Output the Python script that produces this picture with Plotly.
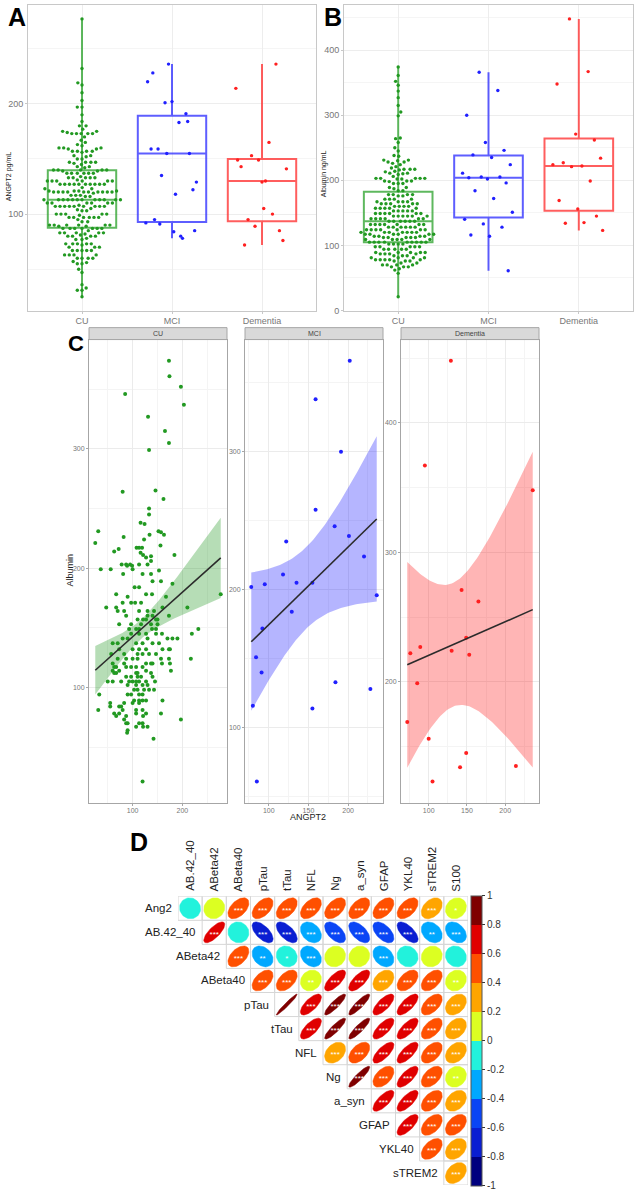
import math
import numpy as np
import plotly.graph_objects as go

# ---------------- DATA ----------------
groups = ["CU", "MCI", "Dementia"]

cu_angpt2 = [
    173, 174, 197, 85, 203, 131, 165, 173, 133, 80, 146, 162, 133, 133, 116, 124,
    31, 152, 157, 134, 163, 82, 25, 123, 156, 72, 63, 108, 113, 119,
    184, 116, 121, 127, 137, 137, 78, 87, 95, 113, 130, 89, 99, 36, 56, 100, 153,
    81, 120, 137, 140, 157, 180, 104, 113, 67, 127, 139, 90, 167,
    80, 97, 105, 117, 47, 67, 160, 210, 70, 83, 113, 130, 143,
    87, 130, 140, 173, 110, 147, 121, 127, 150, 73, 97, 117, 137, 150,
    93, 107, 113, 232, 139, 147, 97, 113, 127, 147, 159, 219,
    80, 90, 130, 170, 180, 190, 60, 70, 120, 107, 140, 153,
    73, 100, 113, 127, 160, 173, 175, 57, 83, 110, 120, 133, 147,
    70, 87, 100, 110, 217, 157, 173, 60, 83, 127, 137, 140, 159, 175,
    63, 67, 87, 97, 107, 120, 60, 73, 127, 177, 63, 67, 107, 110, 137,
    87, 97, 110, 117, 140, 50, 60, 77, 93, 100, 107, 113, 127, 145,
    90, 107, 120, 130, 103, 110, 123, 133, 143, 33, 90, 97, 113, 120,
    103, 120, 113, 127, 160, 55, 83, 100, 113, 55, 73, 77,
    31, 80, 107, 120, 63, 73, 107, 127, 157, 67, 87, 121, 83, 197,
    87, 90, 113, 120, 107, 121, 130, 90, 89, 142, 120, 277,
]
cu_albumin = [
    374, 361, 352, 346, 337, 327, 315, 305, 299, 264, 265, 258, 250, 245, 238, 237,
    231, 231, 230, 228, 228, 226, 221, 224, 219, 216, 214, 217, 217, 217,
    211, 213, 211, 209, 210, 206, 203, 203, 203, 203, 203, 202, 202, 199, 199, 199, 198,
    195, 195, 195, 189, 189, 187, 184, 184, 178, 178, 178, 176, 176,
    171, 171, 171, 171, 167, 167, 167, 167, 164, 164, 164, 164, 164,
    160, 160, 160, 160, 157, 157, 157, 157, 157, 153, 153, 153, 153, 153,
    149, 149, 149, 149, 149, 149, 145, 145, 145, 145, 145, 145,
    141, 141, 141, 141, 141, 141, 137, 137, 137, 137, 137, 137,
    132, 132, 132, 132, 132, 132, 132, 128, 128, 128, 128, 128, 128,
    124, 124, 124, 124, 124, 124, 124, 120, 120, 120, 120, 120, 120, 120,
    117, 117, 117, 117, 117, 117, 114, 114, 114, 114, 112, 112, 112, 112, 112,
    109, 109, 109, 109, 109, 105, 105, 105, 105, 105, 105, 105, 105, 105,
    102, 102, 102, 102, 98, 98, 98, 98, 98, 94, 94, 94, 94, 94,
    89, 89, 89, 89, 89, 87, 87, 87, 87, 84, 84, 84,
    81, 81, 81, 81, 78, 78, 78, 78, 78, 76, 76, 76, 73, 73,
    70, 70, 70, 70, 67, 67, 67, 64, 62, 57, 21, 178,
]
mci_angpt2 = [202, 159, 191, 159, 183, 201, 122, 220, 118, 135, 155, 95, 78, 236, 129, 92, 84, 91, 184, 228, 80, 155, 85]
mci_albumin = [366, 338, 300, 258, 246, 239, 235, 224, 211, 205, 205, 204, 202, 196, 184, 172, 151, 140, 133, 128, 116, 114, 61]
dem_angpt2 = [129, 95, 236, 143, 165, 89, 76, 149, 130, 153, 85, 72, 100, 149, 141, 214, 105]
dem_albumin = [448, 367, 348, 271, 262, 227, 222, 234, 224, 221, 199, 169, 156, 145, 134, 135, 123]

corr_rows = ["Ang2", "AB.42_40", "ABeta42", "ABeta40", "pTau", "tTau", "NFL", "Ng", "a_syn", "GFAP", "YKL40", "sTREM2"]
corr_cols = ["AB.42_40", "ABeta42", "ABeta40", "pTau", "tTau", "NFL", "Ng", "a_syn", "GFAP", "YKL40", "sTREM2", "S100"]
corr_upper = [
    [-0.05, 0.08, 0.5, 0.52, 0.52, 0.5, 0.5, 0.5, 0.5, 0.52, 0.38, 0.15],
    [0.75, -0.05, -0.62, -0.62, -0.32, -0.55, -0.58, -0.55, -0.65, -0.3, -0.35],
    [0.5, -0.3, -0.12, -0.3, 0.08, 0.1, -0.3, -0.1, 0.1, -0.1],
    [0.5, 0.5, 0.15, 0.7, 0.7, 0.35, 0.5, 0.5, 0.15],
    [0.97, 0.7, 0.88, 0.88, 0.72, 0.72, 0.55, 0.35],
    [0.7, 0.88, 0.88, 0.72, 0.72, 0.55, 0.35],
    [0.35, 0.5, 0.72, 0.72, 0.5, 0.35],
    [0.9, 0.5, 0.72, 0.5, 0.15],
    [0.72, 0.72, 0.5, 0.35],
    [0.72, 0.5, 0.45],
    [0.5, 0.35],
    [0.35],
]
corr_stars = [
    ["", "", "***", "***", "***", "***", "***", "***", "***", "***", "***", "*"],
    ["***", "", "***", "***", "***", "***", "***", "***", "***", "**", "***"],
    ["***", "**", "*", "***", "", "", "***", "", "", ""],
    ["***", "***", "**", "***", "***", "***", "***", "***", "**"],
    ["", "***", "***", "***", "***", "***", "***", "***"],
    ["***", "***", "***", "***", "***", "***", "***"],
    ["***", "***", "***", "***", "***", "***"],
    ["***", "***", "***", "***", "**"],
    ["***", "***", "***", "***"],
    ["***", "***", "***"],
    ["***", "***"],
    ["***"],
]
cbar_ticks = [1, 0.8, 0.6, 0.4, 0.2, 0, -0.2, -0.4, -0.6, -0.8, -1]
corr_palette = ["#00007F", "#0A1ED2", "#0A45F5", "#00A8FF", "#22F2DC",
                "#DCFF22", "#FFA500", "#FF5000", "#E00000", "#7F0000"]

# ---------------- GEOMETRY / STYLE ----------------
W, H = 636, 1199
FONT = "Liberation Sans, Arial, sans-serif"
def px(x): return x / W
def py(y): return 1 - y / H

A_X, A_Y = (28, 316), (5, 312)
B_X, B_Y = (344, 633), (5, 312)
C_X = [(89, 227), (245, 383), (401, 539)]
C_Y = (341, 806)
D_X, D_Y = (178, 468), (900, 1190)

pt_col = {"CU": "#229922", "MCI": "#2020FF", "Dementia": "#FF2020"}
box_col = {"CU": "rgba(40,160,40,0.75)", "MCI": "rgba(40,40,255,0.75)", "Dementia": "rgba(255,40,40,0.75)"}
band_col = {"CU": "rgba(34,153,34,0.33)", "MCI": "rgba(30,30,255,0.33)", "Dementia": "rgba(255,30,30,0.33)"}

data_ang = {"CU": cu_angpt2, "MCI": mci_angpt2, "Dementia": dem_angpt2}
data_alb = {"CU": cu_albumin, "MCI": mci_albumin, "Dementia": dem_albumin}


def expand(vals, f=0.05):
    lo, hi = min(vals), max(vals)
    return [lo - f * (hi - lo), hi + f * (hi - lo)]


def swarm(vals, unit_px, d):
    vals = np.asarray(vals, float)
    order = np.argsort(vals, kind="stable")
    ys = vals * unit_px
    placed = []
    off = np.zeros(len(vals))
    for k, idx in enumerate(order):
        y = ys[idx]
        ints = []
        for (pyv, pxv) in placed:
            dy = abs(pyv - y)
            if dy < d:
                w = math.sqrt(d * d - dy * dy)
                ints.append((pxv - w, pxv + w))
        cands = [0.0] + [a for a, b in ints] + [b for a, b in ints]
        sgn = 1 if k % 2 else -1
        cands.sort(key=lambda c: (round(abs(c), 6), -sgn * c))
        for c in cands:
            if all(not (a + 1e-9 < c < b - 1e-9) for a, b in ints):
                off[idx] = c
                break
        placed.append((y, off[idx]))
    return off


def vdc(n, base):
    v, den = 0.0, 1.0
    while n:
        n, r = divmod(n, base)
        den *= base
        v += r / den
    return v


def t975(df):
    z = 1.959964
    return (z + (z**3 + z) / (4 * df) + (5 * z**5 + 16 * z**3 + 3 * z) / (96 * df**2)
            + (3 * z**7 + 19 * z**5 + 17 * z**3 - 15 * z) / (384 * df**3))


fig = go.Figure()
annotations = []
shapes = []

# ---------------- PANELS A and B ----------------
panels_ab = [
    ("x", "y", A_X, A_Y, data_ang, 2),
    ("x2", "y2", B_X, B_Y, data_alb, 3),
]
for xa, ya, PX, PY, dd, base in panels_ab:
    allv = [v for g in groups for v in dd[g]]
    yr = expand(allv)
    unit_px = (PY[1] - PY[0]) / (yr[1] - yr[0])
    cat_px = (PX[1] - PX[0]) / 3.2
    for gi, g in enumerate(groups):
        vals = dd[g]
        fig.add_trace(go.Box(
            y=vals, x=[gi] * len(vals), xaxis=xa, yaxis=ya, width=0.76,
            boxpoints=False, whiskerwidth=0, quartilemethod="linear",
            line=dict(color=box_col[g], width=2), fillcolor="rgba(0,0,0,0)",
            showlegend=False, hoverinfo="skip"))
        if g == "CU":
            offs = swarm(vals, unit_px, 4.7) / cat_px
        else:
            offs = np.array([(vdc(i + 1, base) - 0.5) * 0.62 for i in range(len(vals))])
        fig.add_trace(go.Scatter(
            x=gi + offs, y=vals, xaxis=xa, yaxis=ya, mode="markers",
            marker=dict(size=3.4, color=pt_col[g]), showlegend=False, hoverinfo="skip"))

# ---------------- PANEL C ----------------
for k, g in enumerate(groups):
    xa, ya = "x%d" % (k + 3), "y%d" % (k + 3)
    x = np.asarray(data_ang[g], float)
    y = np.asarray(data_alb[g], float)
    n = len(x)
    b1, b0 = np.polyfit(x, y, 1)
    xs = np.linspace(x.min(), x.max(), 80)
    yh = b0 + b1 * xs
    s = math.sqrt(np.sum((y - (b0 + b1 * x)) ** 2) / (n - 2))
    sxx = np.sum((x - x.mean()) ** 2)
    se = s * np.sqrt(1.0 / n + (xs - x.mean()) ** 2 / sxx)
    t = t975(n - 2)
    up, lo = yh + t * se, yh - t * se
    fig.add_trace(go.Scatter(
        x=np.concatenate([xs, xs[::-1]]), y=np.concatenate([up, lo[::-1]]),
        xaxis=xa, yaxis=ya, fill="toself", fillcolor=band_col[g], line=dict(width=0),
        mode="lines", showlegend=False, hoverinfo="skip"))
    fig.add_trace(go.Scatter(
        x=x, y=y, xaxis=xa, yaxis=ya, mode="markers",
        marker=dict(size=4, color=pt_col[g]), showlegend=False, hoverinfo="skip"))
    fig.add_trace(go.Scatter(
        x=xs, y=yh, xaxis=xa, yaxis=ya, mode="lines",
        line=dict(color="#2b2b2b", width=1.6), showlegend=False, hoverinfo="skip"))
    shapes.append(dict(type="rect", xref="paper", yref="paper",
                       x0=px(C_X[k][0]), x1=px(C_X[k][1]), y0=py(341), y1=py(329),
                       fillcolor="#D9D9D9", line=dict(color="#A6A6A6", width=1)))
    annotations.append(dict(x=px((C_X[k][0] + C_X[k][1]) / 2), y=py(335), xref="paper", yref="paper",
                            xanchor="center", yanchor="middle",
                            text=g, showarrow=False, font=dict(size=7, color="#444", family=FONT)))

# ---------------- PANEL D ----------------
bins_x = [[] for _ in corr_palette]
bins_y = [[] for _ in corr_palette]
star_x, star_y, star_t = [], [], []
tt = np.linspace(0, 2 * math.pi, 60)
for i, row in enumerate(corr_upper):
    for m, r in enumerate(row):
        j = i + m
        dang = math.acos(max(-1.0, min(1.0, r)))
        ex = np.cos(tt + dang / 2) / 2 * 0.87
        ey = np.cos(tt - dang / 2) / 2 * 0.87
        b = min(int((r + 1) / 0.2), 9)
        bins_x[b] += list(j + ex) + [None]
        bins_y[b] += list(i - ey) + [None]
        star_x.append(j)
        star_y.append(i + 0.1)
        star_t.append(corr_stars[i][m])
        shapes.append(dict(type="rect", xref="x6", yref="y6", x0=j - 0.5, x1=j + 0.5,
                           y0=i - 0.5, y1=i + 0.5, line=dict(color="#D6D6D6", width=1),
                           layer="below"))
for b, c in enumerate(corr_palette):
    if bins_x[b]:
        fig.add_trace(go.Scatter(x=bins_x[b], y=bins_y[b], xaxis="x6", yaxis="y6",
                                 mode="lines", fill="toself", fillcolor=c,
                                 line=dict(color=c, width=0.5), showlegend=False, hoverinfo="skip"))
fig.add_trace(go.Scatter(x=star_x, y=star_y, text=star_t, xaxis="x6", yaxis="y6", mode="text",
                         textfont=dict(size=8, color="white", family=FONT),
                         showlegend=False, hoverinfo="skip"))

cscale = []
for b, c in enumerate(corr_palette):
    cscale.append([b / 10, c])
    cscale.append([(b + 1) / 10, c])
fig.add_trace(go.Scatter(
    x=[0], y=[0], xaxis="x6", yaxis="y6", mode="markers",
    marker=dict(size=1, opacity=0, color=[0], colorscale=cscale, cmin=-1, cmax=1, showscale=True,
                colorbar=dict(x=px(471), xanchor="left", y=py((D_Y[0] + D_Y[1]) / 2), yanchor="middle",
                              len=D_Y[1] - D_Y[0], lenmode="pixels", thickness=11, thicknessmode="pixels",
                              xpad=0, ypad=0, outlinewidth=1, outlinecolor="#555",
                              tickvals=cbar_ticks, ticktext=[str(v) for v in cbar_ticks],
                              ticks="outside", ticklen=3, tickcolor="#333",
                              tickfont=dict(size=10, color="#333", family=FONT))),
    showlegend=False, hoverinfo="skip"))

for i, name in enumerate(corr_rows):
    annotations.append(dict(x=i - 0.5, y=i, xref="x6", yref="y6", text=name, showarrow=False,
                            xanchor="right", yanchor="middle", xshift=-4,
                            font=dict(size=11.5, color="#222", family=FONT)))
for j, name in enumerate(corr_cols):
    annotations.append(dict(x=j, y=-0.5, xref="x6", yref="y6", text=name, showarrow=False,
                            textangle=-90, xanchor="center", yanchor="bottom", yshift=3,
                            font=dict(size=11.5, color="#222", family=FONT)))

# ---------------- TITLES / LETTERS ----------------
def ptext(x, y, text, size, angle=0, color="#222"):
    return dict(x=px(x), y=py(y), xref="paper", yref="paper", text=text, textangle=angle,
                showarrow=False, xanchor="center", yanchor="middle",
                font=dict(size=size, color=color, family=FONT))

annotations += [
    ptext(9, 177, "ANGPT2 pg/mL", 7, -90),
    ptext(324, 175, "Albumin ng/mL", 7, -90),
    ptext(70, 573, "Albumin", 9, -90),
    ptext(308, 820, "ANGPT2", 9),
]
for lt, lx, ly, sz in [("A", 17, 17, 25), ("B", 333, 17, 25), ("C", 76, 345, 22), ("D", 139, 846, 25)]:
    annotations.append(ptext(lx, ly, "<b>%s</b>" % lt, sz, 0, "black"))

# ---------------- AXES ----------------
def ab_axes(PX, PY, yr, anchor_x, anchor_y):
    xa = dict(domain=[px(PX[0]), px(PX[1])], range=[-0.6, 2.6], tickvals=[0, 1, 2], ticktext=groups,
              showgrid=True, gridcolor="#EDEDED", zeroline=False, showline=True, mirror=True,
              linecolor="#C8C8C8", ticks="outside", ticklen=2, tickcolor="#C8C8C8", ticklabelstandoff=0,
              tickfont=dict(size=9, color="#777", family=FONT), anchor=anchor_y, fixedrange=True)
    ya = dict(domain=[py(PY[1]), py(PY[0])], range=yr, dtick=100, tick0=0,
              showgrid=True, gridcolor="#EDEDED", zeroline=False, showline=True, mirror=True,
              linecolor="#C8C8C8", ticks="outside", ticklen=2, tickcolor="#C8C8C8",
              minor=dict(dtick=50, tick0=0, showgrid=True, gridcolor="#F5F5F5", ticklen=0),
              tickfont=dict(size=9, color="#777", family=FONT), anchor=anchor_x, fixedrange=True)
    return xa, ya

xA, yA = ab_axes(A_X, A_Y, expand([v for g in groups for v in data_ang[g]]), "x", "y")
xB, yB = ab_axes(B_X, B_Y, expand([v for g in groups for v in data_alb[g]]), "x2", "y2")

layout = dict(xaxis=xA, yaxis=yA, xaxis2=xB, yaxis2=yB)
for k, g in enumerate(groups):
    xd = 100 if g == "CU" else 50
    layout["xaxis%d" % (k + 3)] = dict(
        domain=[px(C_X[k][0]), px(C_X[k][1])], range=expand(data_ang[g]), dtick=xd, tick0=0,
        showgrid=True, gridcolor="#EBEBEB", zeroline=False, showline=True, mirror=True,
        linecolor="#A6A6A6", ticks="outside", ticklen=2, tickcolor="#A6A6A6", ticklabelstandoff=-1,
        minor=dict(dtick=xd / 2, tick0=0, showgrid=True, gridcolor="#F4F4F4", ticklen=0),
        tickfont=dict(size=7, color="#777", family=FONT), anchor="y%d" % (k + 3), fixedrange=True)
    layout["yaxis%d" % (k + 3)] = dict(
        domain=[py(C_Y[1]), py(C_Y[0])], range=expand(data_alb[g]), dtick=100, tick0=0,
        showgrid=True, gridcolor="#EBEBEB", zeroline=False, showline=True, mirror=True,
        linecolor="#A6A6A6", ticks="outside", ticklen=2, tickcolor="#A6A6A6",
        minor=dict(dtick=50, tick0=0, showgrid=True, gridcolor="#F4F4F4", ticklen=0),
        tickfont=dict(size=7, color="#777", family=FONT), anchor="x%d" % (k + 3), fixedrange=True)
layout["xaxis6"] = dict(domain=[px(D_X[0]), px(D_X[1])], range=[-0.5, 11.5], visible=False,
                        anchor="y6", fixedrange=True)
layout["yaxis6"] = dict(domain=[py(D_Y[1]), py(D_Y[0])], range=[11.5, -0.5], visible=False,
                        anchor="x6", fixedrange=True)

fig.update_layout(
    width=W, height=H, margin=dict(l=0, r=0, t=0, b=0),
    paper_bgcolor="white", plot_bgcolor="white",
    font=dict(family=FONT), showlegend=False, boxmode="overlay",
    annotations=annotations, shapes=shapes, **layout)

fig.write_html("out.html", config={"displayModeBar": False},
               post_script="document.body.style.margin='0px';")
